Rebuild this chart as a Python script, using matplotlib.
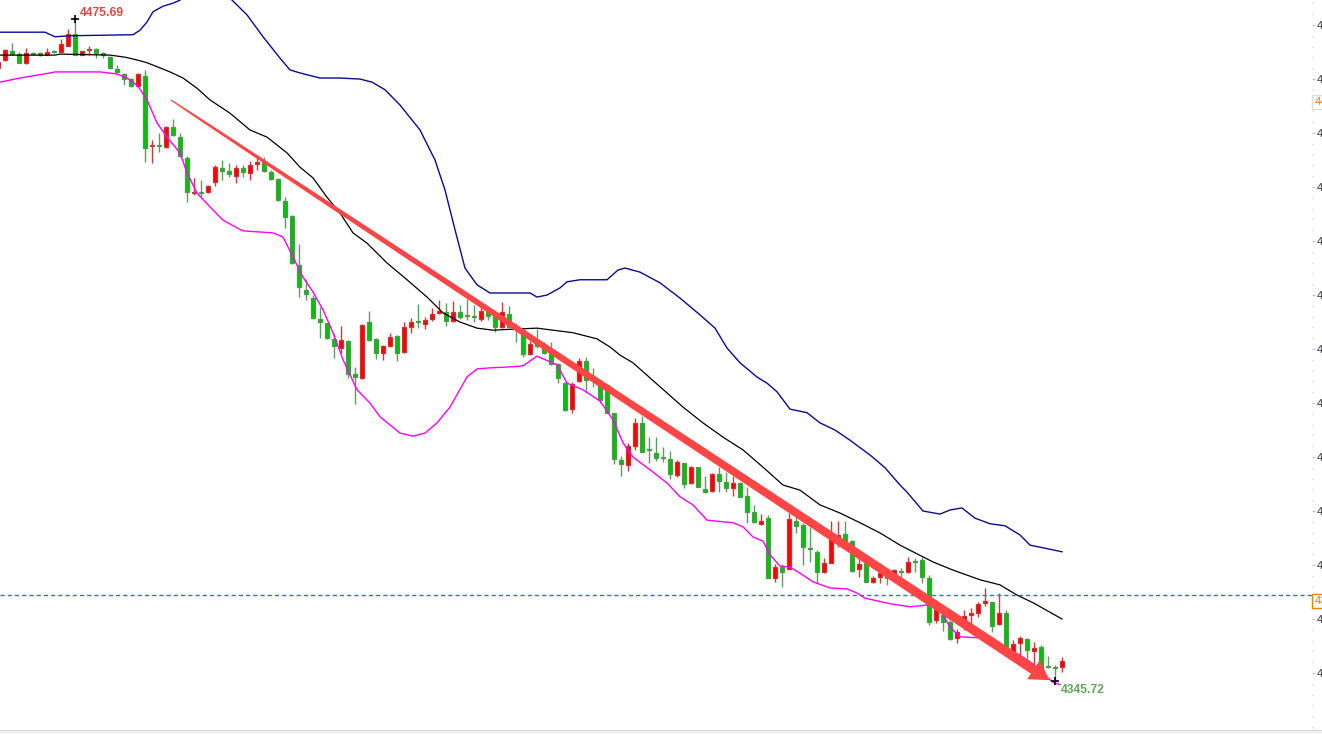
import numpy as np
import matplotlib
matplotlib.use("Agg")
import matplotlib.pyplot as plt
from matplotlib.patches import Polygon, Rectangle
from matplotlib.ticker import FixedLocator, FormatStrFormatter
from matplotlib.transforms import IdentityTransform, blended_transform_factory

plt.rcParams["font.family"] = ["Liberation Sans", "DejaVu Sans"]

# ---- candles (bar -1 is cut by the left edge) ----
first_bar = -1
opens = [4466.1, 4467.6, 4469.4, 4468.8, 4467.1, 4469.1, 4469.0, 4468.6, 4469.4, 4469.2,
         4470.4, 4472.7, 4468.6, 4469.6, 4469.8, 4469.0, 4468.2, 4465.9, 4464.9, 4463.9,
         4462.5, 4464.5, 4450.8, 4451.0, 4450.6, 4454.5, 4452.5, 4448.4, 4441.5, 4441.7,
         4441.7, 4443.7, 4446.4, 4445.9, 4444.9, 4446.4, 4445.5, 4447.2, 4447.6, 4445.7,
         4444.3, 4440.0, 4437.0, 4427.4, 4422.5, 4420.9, 4416.8, 4416.0, 4412.9, 4411.1,
         4412.5, 4406.0, 4405.2, 4416.2, 4412.9, 4410.1, 4411.5, 4413.5, 4410.3, 4415.2,
         4416.4, 4415.8, 4416.8, 4418.0, 4418.2, 4416.4, 4418.2, 4417.6, 4417.4, 4416.8,
         4418.2, 4417.4, 4415.2, 4417.8, 4415.2, 4414.6, 4409.9, 4412.1, 4411.3, 4410.1,
         4408.0, 4404.2, 4399.1, 4404.6, 4408.6, 4405.2, 4404.6, 4403.8, 4398.3, 4389.1,
         4388.1, 4391.9, 4396.4, 4391.3, 4390.5, 4389.7, 4389.3, 4386.2, 4388.5, 4384.6,
         4387.7, 4383.4, 4383.0, 4386.4, 4384.8, 4383.6, 4384.6, 4382.1, 4378.9, 4376.6,
         4377.7, 4366.0, 4368.1, 4367.7, 4377.1, 4376.4, 4371.8, 4371.1, 4367.1, 4368.9,
         4374.0, 4374.6, 4373.2, 4367.7, 4368.9, 4365.2, 4366.2, 4366.2, 4366.0, 4367.3,
         4367.1, 4369.3, 4369.5, 4366.0, 4357.7, 4358.7, 4357.3, 4354.2, 4356.7, 4358.7,
         4359.1, 4361.0, 4361.2, 4356.9, 4359.1, 4351.0, 4353.2, 4354.0, 4351.6, 4352.4,
         4348.7, 4348.5, 4348.5]
highs = [4467.6, 4469.8, 4471.0, 4469.2, 4470.0, 4469.2, 4469.2, 4470.0, 4469.6, 4471.8,
         4473.7, 4475.69, 4469.4, 4470.4, 4470.0, 4469.2, 4468.4, 4466.7, 4465.1, 4464.1,
         4465.1, 4465.7, 4451.9, 4453.3, 4454.7, 4456.1, 4453.3, 4448.8, 4444.5, 4444.1,
         4443.1, 4447.0, 4448.0, 4447.4, 4447.0, 4447.0, 4447.8, 4449.0, 4448.6, 4446.1,
         4444.5, 4440.7, 4437.2, 4431.5, 4424.6, 4421.5, 4419.2, 4416.0, 4414.1, 4415.4,
         4412.7, 4407.4, 4415.8, 4418.4, 4413.1, 4411.7, 4414.1, 4413.7, 4416.2, 4417.0,
         4419.7, 4417.2, 4419.0, 4420.5, 4419.9, 4420.3, 4419.5, 4420.7, 4419.5, 4419.2,
         4419.2, 4418.2, 4420.1, 4419.3, 4416.0, 4414.8, 4412.5, 4414.8, 4412.3, 4412.3,
         4408.2, 4404.4, 4404.4, 4409.1, 4409.3, 4407.2, 4405.0, 4404.0, 4398.3, 4389.9,
         4392.5, 4397.4, 4397.8, 4393.6, 4393.6, 4391.7, 4390.9, 4389.1, 4388.5, 4387.9,
         4387.7, 4386.0, 4386.6, 4387.7, 4386.8, 4386.0, 4384.8, 4383.8, 4380.3, 4378.5,
         4378.3, 4368.7, 4368.7, 4378.7, 4378.3, 4376.8, 4376.0, 4371.5, 4369.9, 4377.1,
         4377.1, 4377.1, 4373.4, 4370.1, 4368.9, 4366.3, 4367.1, 4366.7, 4367.7, 4367.9,
         4370.1, 4369.9, 4370.1, 4366.5, 4361.6, 4359.3, 4357.7, 4355.9, 4359.7, 4360.1,
         4361.2, 4364.0, 4361.2, 4363.0, 4359.7, 4353.8, 4354.6, 4354.2, 4353.4, 4352.8,
         4350.6, 4348.9, 4350.4]
lows = [4465.7, 4467.4, 4468.6, 4467.1, 4466.9, 4468.6, 4468.4, 4468.6, 4469.0, 4469.2,
        4470.4, 4468.6, 4468.6, 4468.6, 4468.0, 4468.0, 4465.9, 4465.1, 4462.7, 4462.3,
        4462.3, 4447.6, 4447.4, 4449.6, 4450.4, 4452.7, 4448.6, 4439.8, 4441.1, 4440.7,
        4441.5, 4442.9, 4444.1, 4444.7, 4443.5, 4444.7, 4444.1, 4446.1, 4445.7, 4444.1,
        4440.0, 4434.7, 4427.6, 4421.1, 4420.5, 4416.8, 4413.1, 4412.9, 4409.1, 4410.1,
        4405.2, 4400.1, 4405.0, 4412.5, 4409.0, 4408.8, 4411.3, 4408.6, 4410.1, 4414.1,
        4415.0, 4414.8, 4416.4, 4417.8, 4415.4, 4416.2, 4416.8, 4416.6, 4416.2, 4416.4,
        4416.6, 4414.3, 4415.0, 4415.2, 4412.3, 4409.3, 4409.7, 4411.1, 4409.9, 4407.8,
        4404.2, 4398.7, 4398.3, 4404.4, 4402.3, 4403.5, 4400.3, 4398.3, 4388.3, 4386.0,
        4387.0, 4391.1, 4390.7, 4388.5, 4388.9, 4388.7, 4385.4, 4385.8, 4383.6, 4384.4,
        4383.8, 4382.6, 4382.8, 4382.8, 4382.8, 4382.1, 4381.9, 4376.8, 4376.8, 4376.4,
        4366.0, 4365.2, 4364.2, 4367.7, 4374.8, 4368.5, 4369.1, 4365.0, 4366.9, 4368.9,
        4372.0, 4373.0, 4367.1, 4366.2, 4365.2, 4365.0, 4365.0, 4364.6, 4365.8, 4365.8,
        4366.9, 4367.1, 4365.0, 4356.7, 4357.1, 4355.6, 4353.8, 4353.2, 4355.7, 4356.7,
        4358.3, 4360.5, 4355.4, 4356.7, 4351.4, 4350.8, 4350.8, 4349.9, 4348.5, 4347.9,
        4348.3, 4345.72, 4347.5]
closes = [4467.3, 4469.6, 4468.8, 4467.1, 4469.0, 4468.9, 4468.6, 4469.2, 4469.2, 4470.8,
          4472.7, 4468.6, 4469.4, 4469.8, 4469.0, 4468.6, 4466.1, 4465.3, 4463.9, 4462.5,
          4464.9, 4450.4, 4451.0, 4450.8, 4454.5, 4452.9, 4448.8, 4441.7, 4441.7, 4441.5,
          4442.9, 4446.6, 4445.9, 4445.3, 4446.4, 4445.7, 4447.0, 4447.6, 4445.9, 4444.3,
          4440.2, 4436.8, 4427.8, 4423.1, 4421.7, 4417.0, 4416.2, 4413.1, 4411.5, 4412.7,
          4406.0, 4405.4, 4415.6, 4412.7, 4410.1, 4411.5, 4413.3, 4410.1, 4415.2, 4416.2,
          4416.2, 4416.6, 4417.8, 4418.4, 4416.4, 4418.2, 4417.2, 4417.4, 4417.2, 4418.4,
          4417.4, 4415.2, 4418.2, 4415.2, 4415.0, 4409.9, 4411.9, 4411.5, 4410.1, 4408.0,
          4405.2, 4398.9, 4404.0, 4408.6, 4404.8, 4405.0, 4400.9, 4398.3, 4389.3, 4388.3,
          4391.9, 4396.4, 4390.7, 4391.1, 4389.5, 4389.5, 4386.4, 4388.7, 4384.4, 4387.7,
          4383.8, 4382.8, 4386.4, 4385.0, 4383.6, 4384.6, 4381.9, 4378.9, 4376.9, 4377.1,
          4366.0, 4368.1, 4367.1, 4377.5, 4376.2, 4372.0, 4371.6, 4367.1, 4368.9, 4373.8,
          4374.4, 4373.0, 4367.3, 4368.7, 4365.2, 4366.0, 4366.9, 4366.0, 4367.5, 4367.1,
          4369.1, 4369.1, 4366.2, 4357.3, 4359.9, 4357.3, 4354.0, 4355.4, 4358.5, 4359.1,
          4360.9, 4361.4, 4356.5, 4359.1, 4351.4, 4353.0, 4354.2, 4351.8, 4352.2, 4348.3,
          4348.5, 4348.3, 4349.7]

# ---- Bollinger bands (x in bar units) ----
upper_x = [-0.71, 5.71, 7.14, 9.29, 18.29, 19.29, 20.29, 21.14, 22.57, 24.0, 25.0, 27.14,
           29.29, 31.0, 32.43, 34.57, 36.86, 39.29, 40.71, 42.14, 45.0, 47.86, 50.71, 52.43,
           54.29, 56.43, 59.29, 61.43, 62.86, 64.29, 65.71, 67.43, 69.29, 75.0, 76.0, 77.43,
           79.29, 80.29, 82.14, 86.0, 87.57, 88.57, 90.71, 93.57, 96.43, 99.29, 101.43, 103.14,
           105.0, 107.43, 108.86, 110.29, 112.14, 114.57, 116.43, 118.57, 120.71, 123.57, 125.71,
           127.86, 128.86, 131.14, 133.57, 135.0, 136.71, 138.57, 140.71, 142.86, 145.0, 146.43,
           148.57, 151.0]
upper_y = [4473.1, 4473.1, 4472.2, 4472.4, 4472.6, 4473.5, 4475.1, 4477.1, 4478.2, 4478.8,
           4479.4, 4482.4, 4483.7, 4481.8, 4479.4, 4476.5, 4472.2, 4468.0, 4465.7, 4465.1,
           4464.1, 4464.1, 4463.9, 4463.3, 4461.8, 4458.8, 4453.9, 4448.0, 4442.1, 4434.3,
           4426.8, 4423.5, 4421.9, 4421.9, 4421.1, 4421.5, 4422.9, 4424.1, 4424.5, 4424.5,
           4426.4, 4426.8, 4426.0, 4423.9, 4420.9, 4417.6, 4415.0, 4411.1, 4408.2, 4405.4,
           4404.2, 4402.5, 4399.1, 4398.4, 4396.4, 4395.0, 4393.0, 4390.1, 4387.6, 4384.2,
           4382.8, 4379.1, 4378.5, 4379.3, 4379.7, 4377.7, 4376.6, 4376.2, 4374.4, 4372.4,
           4371.8, 4371.1]
mid_x = [-0.71, 7.14, 7.86, 15.0, 17.14, 19.0, 20.29, 22.14, 23.57, 25.43, 27.43, 29.29,
         32.14, 35.0, 37.43, 40.29, 42.14, 44.0, 46.0, 47.86, 49.71, 51.71, 54.57, 57.43,
         60.29, 62.57, 65.0, 67.43, 69.71, 72.57, 76.0, 78.29, 81.14, 84.57, 86.43, 87.86,
         89.71, 93.57, 96.86, 99.71, 102.57, 105.43, 108.29, 111.14, 113.57, 116.43, 119.29,
         122.14, 125.0, 127.86, 129.71, 132.57, 135.43, 139.29, 142.14, 144.57, 146.86, 151.0]
mid_y = [4468.6, 4468.6, 4468.8, 4468.6, 4468.2, 4467.6, 4467.1, 4466.1, 4465.3, 4464.1,
         4462.1, 4459.8, 4457.2, 4453.9, 4452.5, 4449.4, 4446.6, 4444.5, 4440.7, 4437.6,
         4433.7, 4431.7, 4427.8, 4424.5, 4421.1, 4418.0, 4416.2, 4415.0, 4414.6, 4414.8,
         4415.0, 4414.6, 4414.1, 4412.9, 4411.3, 4409.7, 4408.2, 4403.5, 4399.5, 4396.4,
         4393.6, 4391.1, 4387.7, 4384.2, 4383.2, 4380.3, 4378.7, 4376.8, 4374.8, 4372.4,
         4371.1, 4369.1, 4367.5, 4365.6, 4364.6, 4362.6, 4361.1, 4357.9]
lower_x = [-0.71, 2.14, 6.43, 7.14, 13.57, 16.0, 17.43, 19.0, 20.29, 21.71, 23.14, 25.0,
           26.0, 27.43, 29.29, 31.14, 33.14, 34.0, 38.29, 39.71, 41.14, 42.57, 44.0, 45.43,
           46.86, 48.29, 50.29, 52.14, 53.57, 56.43, 58.29, 60.0, 61.71, 63.57, 66.0, 67.43,
           69.29, 72.14, 74.0, 76.0, 78.86, 80.29, 82.57, 85.0, 86.86, 88.29, 89.71, 92.14,
           94.57, 96.43, 98.29, 100.29, 104.0, 105.43, 106.86, 108.29, 109.29, 110.71, 112.14,
           113.57, 115.43, 117.86, 120.29, 121.71, 122.86, 126.43, 129.29, 132.14, 133.57,
           135.0, 136.43, 139.29, 142.14, 145.0, 146.86, 148.29, 149.71, 150.71]
lower_y = [4463.3, 4464.1, 4465.1, 4465.3, 4465.3, 4464.9, 4464.1, 4462.5, 4459.8, 4455.3,
           4452.5, 4449.4, 4445.5, 4441.5, 4438.8, 4436.2, 4434.7, 4434.1, 4433.7, 4432.9,
           4429.0, 4425.0, 4422.1, 4418.6, 4414.1, 4408.8, 4402.9, 4400.3, 4397.6, 4394.4,
           4393.8, 4394.4, 4396.4, 4399.5, 4405.4, 4407.0, 4407.2, 4407.4, 4407.6, 4409.5,
           4407.8, 4404.2, 4402.9, 4400.7, 4397.0, 4392.5, 4389.7, 4387.2, 4384.6, 4381.9,
           4380.3, 4377.3, 4376.8, 4376.0, 4374.0, 4373.2, 4370.5, 4368.3, 4368.1, 4366.9,
           4365.2, 4364.0, 4363.8, 4363.0, 4362.0, 4360.9, 4360.3, 4360.7, 4359.7, 4356.3,
           4354.4, 4354.2, 4352.8, 4350.8, 4349.1, 4347.1, 4345.5, 4345.0]

high_bar, high_label = 10, "4475.69"
low_bar, low_label = 150, "4345.72"
last_price = 4362.6
trend_start = (23.7, 4459.8)
trend_end = (149.2, 4345.9)
tag_prices = [4459.40, 4361.44]
scale_ticks = [4474.51, 4463.91, 4453.31, 4442.71, 4432.11, 4421.51, 4410.91,
               4400.31, 4389.71, 4379.11, 4368.51, 4357.91, 4347.31]

# ---- figure, 1 px per unit at dpi 100 ----
W, H = 1322, 734
fig = plt.figure(figsize=(W / 100, H / 100), dpi=100, facecolor="white")
ax = fig.add_axes([0, 4 / H, 1312 / W, 730 / H])
ax.set_xlim(-5 / 7, 1307 / 7)
ax.set_ylim(4336.11, 4479.42)

bars = np.arange(first_bar, first_bar + len(opens))
o, h, l, c = map(np.array, (opens, highs, lows, closes))
up = c >= o
face = np.where(up, "#ff0000", "#00c400")
edge = np.where(up, "#cc3434", "#4e9a4e")
wick = np.where(up, "#cc3b3b", "#5c9e5c")
ax.vlines(bars, l, h, colors=wick, lw=1, zorder=2)
ax.bar(bars, c - o, bottom=o, width=0.7, color=face, edgecolor=edge,
       linewidth=0.9, zorder=3)

ax.plot(upper_x, upper_y, color="#0a0a96", lw=1, zorder=4)
ax.plot(mid_x, mid_y, color="black", lw=0.9, zorder=4)
ax.plot(lower_x, lower_y, color="#ff00ff", lw=1, zorder=4)

ax.axhline(last_price, color="#1a78e6", lw=1, dashes=(3, 2.2), zorder=4)

# tapered trend arrow, built in pixel space
S = ax.transData.transform(trend_start)
T = ax.transData.transform(trend_end)
u = (T - S) / np.hypot(*(T - S))
n = np.array([-u[1], u[0]])
head_len, head_half = 19, 11.5
B = T - u * head_len
t = np.linspace(0, 1, 40)
hw = 0.6 + 4.2 * t ** 0.6
shaft = S + np.outer(t, B - S)
left = shaft + np.outer(hw, n)
right = (shaft - np.outer(hw, n))[::-1]
pts = np.vstack([left, [B + n * head_half, T, B - n * head_half], right])
ax.add_patch(Polygon(pts, closed=True, transform=IdentityTransform(),
                     fc="#ff4545", ec="none", zorder=5))

# extreme markers and labels
ax.plot([high_bar], [h[high_bar - first_bar]], marker="+", ms=6, mew=1.2, color="black", zorder=6)
ax.plot([low_bar], [l[low_bar - first_bar]], marker="+", ms=6, mew=1.2, color="black", zorder=6)
ax.annotate(high_label, xy=(high_bar, h[high_bar - first_bar]), xytext=(5, 3),
            textcoords="offset pixels", ha="left", va="baseline", fontsize=8.7,
            fontweight="bold", color="#e04a42", zorder=7)
ax.annotate(low_label, xy=(low_bar, l[low_bar - first_bar]), xytext=(6, -12),
            textcoords="offset pixels", ha="left", va="baseline", fontsize=8.7,
            fontweight="bold", color="#62a85a", zorder=7)

# right price scale (labels get cut by the figure edge like in the terminal)
ax.yaxis.tick_right()
ax.yaxis.set_major_locator(FixedLocator(scale_ticks))
minor = [v - k * (scale_ticks[0] - scale_ticks[1]) / 5
         for v in [scale_ticks[0] + 2 * (scale_ticks[0] - scale_ticks[1]) / 5]
         for k in range(70)]
ax.yaxis.set_minor_locator(FixedLocator(minor))
ax.yaxis.set_major_formatter(FormatStrFormatter("%.2f"))
ax.tick_params(axis="y", which="major", length=2.5, width=0.8, color="#c0c0c0",
               pad=0.8, labelsize=8, labelcolor="#2f3545")
ax.tick_params(axis="y", which="minor", length=1, width=1, color="#c4c4c4")
ax.set_xticks([])
for s in ax.spines.values():
    s.set_visible(False)

tr = blended_transform_factory(ax.transAxes, ax.transData)
for p, ec in zip(tag_prices, ["#dddddd", "#f08000"]):
    ax.text(1.0018, p, f"{p:.2f}", transform=tr, ha="left", va="center", fontsize=8,
            color="#f07800", clip_on=False, zorder=8,
            bbox=dict(boxstyle="square,pad=0.2", fc="white", ec=ec, lw=1))

fig.add_artist(Rectangle((0, 0), 1, 4 / H, transform=fig.transFigure,
                         fc="#f3f3f3", ec="none"))
fig.add_artist(plt.Line2D([0, 1], [4 / H, 4 / H], transform=fig.transFigure,
                          color="#d8d8d8", lw=1))

fig.savefig("out.png", dpi=100, facecolor="white")
